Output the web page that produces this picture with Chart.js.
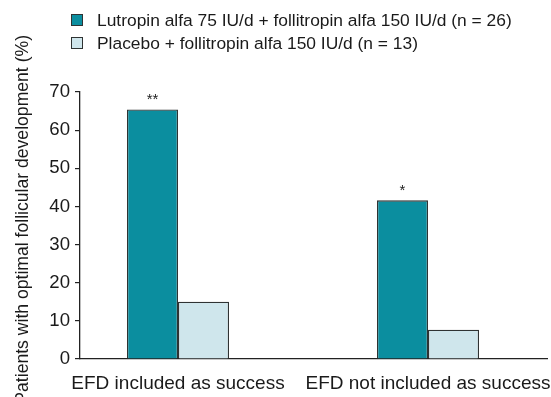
<!DOCTYPE html>
<html>
<head>
<meta charset="utf-8">
<script src="https://cdn.jsdelivr.net/npm/chart.js@4.4.1/dist/chart.umd.min.js"></script>
<style>
  html, body { margin: 0; padding: 0; background: #fff; }
  #wrap { width: 551px; height: 397px; }
</style>
</head>
<body>
<div id="wrap"><canvas id="c" width="551" height="397"></canvas></div>
<script>
// Study outcome: share of patients reaching optimal follicular development
const categories = ['EFD included as success', 'EFD not included as success'];
const seriesNames = [
  'Lutropin alfa 75 IU/d + follitropin alfa 150 IU/d (n = 26)',
  'Placebo + follitropin alfa 150 IU/d (n = 13)'
];
const lutropinValues = [65.4, 41.6];
const placeboValues = [15.0, 7.7];
const significanceMarks = ['**', '*'];
const yTicks = [0, 10, 20, 30, 40, 50, 60, 70];
const yTitle = 'Patients with optimal follicular development (%)';

const FONT = '"Liberation Sans", Arial, Helvetica, sans-serif';
const TEAL = '#0b8e9f';
const PALE = '#cfe6ec';
const EDGE = '#2f3333';

// Two-row legend in the top-left area
const legendPlugin = {
  id: 'topLegend',
  afterDraw(chart) {
    const ctx = chart.ctx;
    ctx.save();
    ctx.font = '17.4px ' + FONT;
    ctx.textBaseline = 'middle';
    chart.data.datasets.forEach((ds, i) => {
      const y = 20 + i * 23;
      ctx.fillStyle = ds.backgroundColor;
      ctx.fillRect(71, y - 6, 12, 12);
      ctx.strokeStyle = EDGE;
      ctx.lineWidth = 1;
      ctx.strokeRect(71.5, y - 5.5, 11, 11);
      ctx.fillStyle = '#1a1a1a';
      ctx.textAlign = 'left';
      ctx.fillText(ds.label, 97, y + 1);
    });
    ctx.restore();
  }
};

// Rotated axis title at the left edge
const yTitlePlugin = {
  id: 'yTitle',
  afterDraw(chart) {
    const ctx = chart.ctx;
    ctx.save();
    ctx.font = '17.6px ' + FONT;
    ctx.fillStyle = '#1a1a1a';
    ctx.translate(27.5, 35);
    ctx.rotate(-Math.PI / 2);
    ctx.textAlign = 'right';
    ctx.textBaseline = 'alphabetic';
    ctx.fillText(yTitle, 0, 0);
    ctx.restore();
  }
};

// Significance asterisks above the lutropin bars
const starPlugin = {
  id: 'stars',
  afterDatasetsDraw(chart) {
    const ctx = chart.ctx;
    const meta = chart.getDatasetMeta(0);
    ctx.save();
    ctx.font = '15px ' + FONT;
    ctx.fillStyle = '#222';
    ctx.textAlign = 'center';
    ctx.textBaseline = 'bottom';
    meta.data.forEach((bar, i) => {
      ctx.fillText(significanceMarks[i], bar.x, bar.y - 2);
    });
    ctx.restore();
  }
};

new Chart(document.getElementById('c'), {
  type: 'bar',
  data: {
    datasets: [
      {
        label: seriesNames[0],
        data: lutropinValues.map((v, i) => ({ x: i, y: v })),
        backgroundColor: TEAL,
        borderColor: EDGE,
        borderWidth: 1.3,
        borderSkipped: 'bottom',
        categoryPercentage: 0.408,
        barPercentage: 1
      },
      {
        label: seriesNames[1],
        data: placeboValues.map((v, i) => ({ x: i, y: v })),
        backgroundColor: PALE,
        borderColor: EDGE,
        borderWidth: 1.3,
        borderSkipped: 'bottom',
        categoryPercentage: 0.408,
        barPercentage: 1
      }
    ]
  },
  options: {
    responsive: false,
    animation: false,
    layout: { padding: { top: 92, right: 4, left: 0, bottom: 0 } },
    plugins: {
      legend: { display: false },
      tooltip: { enabled: false }
    },
    scales: {
      x: {
        type: 'linear',
        offset: false,
        bounds: 'data',
        min: -0.392,
        max: 1.476,
        afterBuildTicks(scale) {
          scale.ticks = categories.map((_, i) => ({ value: i }));
        },
        afterFit(scale) {
          scale.height = 38;
          scale.paddingLeft = 0;
          scale.paddingRight = 0;
        },
        grid: { display: false, drawTicks: false, offset: false },
        border: { display: true, color: '#222', width: 1.3 },
        ticks: {
          padding: 13,
          color: '#1a1a1a',
          font: { family: FONT, size: 19 },
          maxRotation: 0,
          autoSkip: false,
          callback: (v) => categories[v] ?? ''
        }
      },
      y: {
        min: 0,
        max: 70,
        afterBuildTicks(scale) {
          scale.ticks = yTicks.map(v => ({ value: v }));
        },
        afterFit(scale) { scale.width = 80; },
        grid: { drawOnChartArea: false, drawTicks: true, tickLength: 5, color: '#222', lineWidth: 1.2 },
        border: { display: true, color: '#222', width: 1.3 },
        ticks: {
          padding: 5,
          color: '#1a1a1a',
          font: { family: FONT, size: 18.6 }
        }
      }
    }
  },
  plugins: [legendPlugin, yTitlePlugin, starPlugin]
});
</script>
</body>
</html>
